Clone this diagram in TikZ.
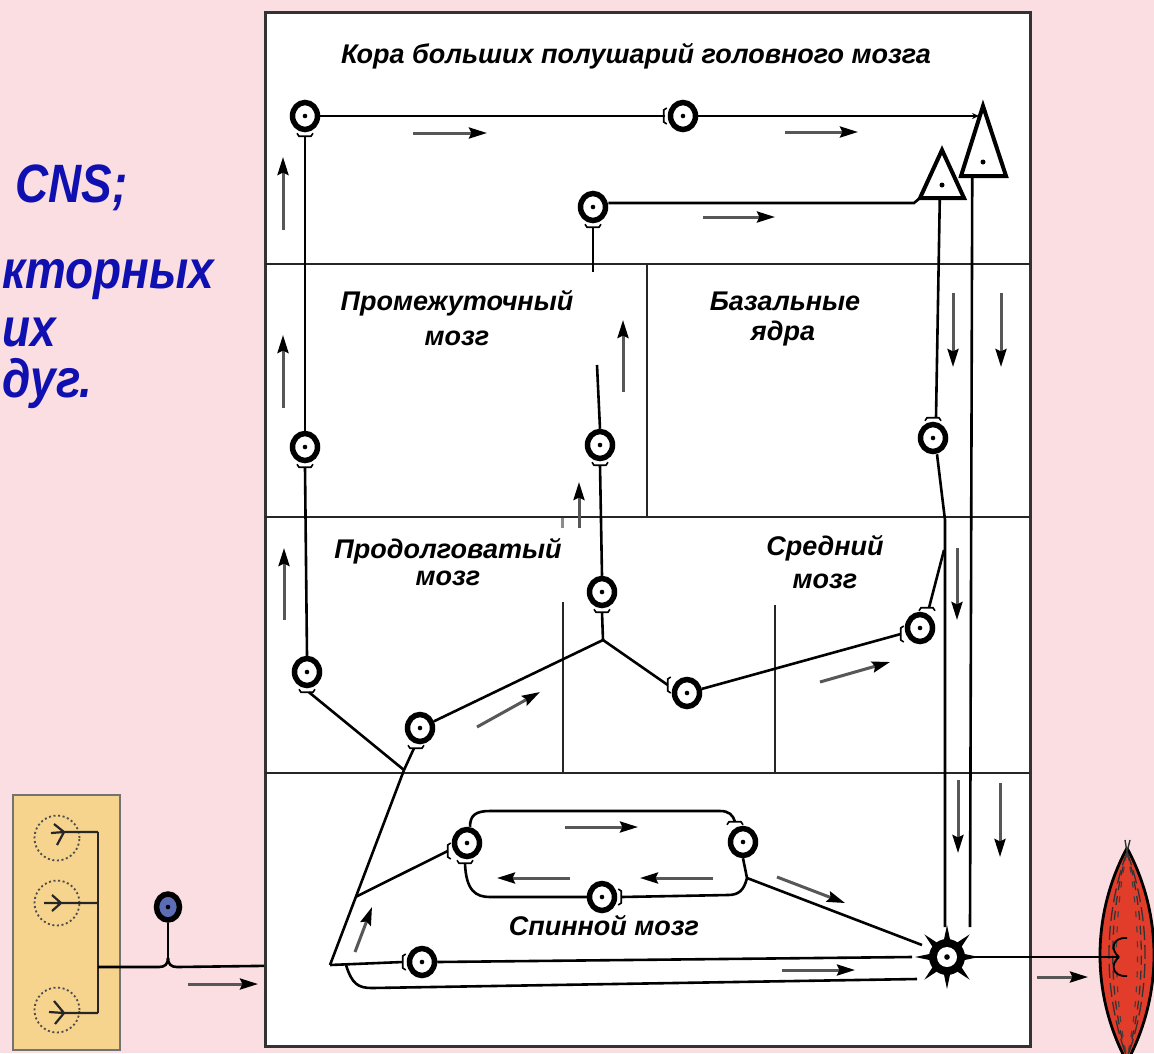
\documentclass[tikz,border=0pt]{standalone}
\usepackage{fontspec}
\setmainfont{Liberation Sans}
\usetikzlibrary{shapes.geometric,arrows.meta,calc}
\definecolor{slidebg}{RGB}{250,222,226}
\definecolor{slideblue}{RGB}{16,16,176}
\definecolor{boxfill}{RGB}{246,212,142}
\definecolor{ganglionblue}{RGB}{92,108,182}
\definecolor{musclered}{RGB}{226,60,42}
% synaptic contact marks beside a neuron (optional shift along the side)
\newcommand{\synS}[2][0]{\draw[syn] ($(#2.south)+({#1-8},1)$) -- ($(#2.south)+({#1-6},4)$) -- ($(#2.south)+({#1+6},4)$) -- ($(#2.south)+({#1+8},1)$);}
\newcommand{\synN}[2][0]{\draw[syn] ($(#2.north)+({#1-8},-1)$) -- ($(#2.north)+({#1-6},-4)$) -- ($(#2.north)+({#1+6},-4)$) -- ($(#2.north)+({#1+8},-1)$);}
\newcommand{\synW}[2][0]{\draw[syn] ($(#2.west)+(-1,{#1-8})$) -- ($(#2.west)+(-4,{#1-6})$) -- ($(#2.west)+(-4,{#1+6})$) -- ($(#2.west)+(-1,{#1+8})$);}
\newcommand{\synE}[2][0]{\draw[syn] ($(#2.east)+(1,{#1-8})$) -- ($(#2.east)+(4,{#1-6})$) -- ($(#2.east)+(4,{#1+6})$) -- ($(#2.east)+(1,{#1+8})$);}
\begin{document}
\begin{tikzpicture}[x=1pt,y=-1pt,
  neuron/.style={ellipse,draw=black,line width=5.5pt,fill=white,minimum width=25pt,minimum height=27pt,inner sep=0pt,
    path picture={\fill[black] (path picture bounding box.center) circle (2.3pt);}},
  axon/.style={line width=2.6pt,black},
  nerve/.style={line width=2.2pt,black!85},
  syn/.style={line width=1.6pt,black},
  flow/.style={line width=3pt,draw=black!66,-{Stealth[length=18pt,width=11pt,inset=2.5pt,color=black]}},
  pyramid/.style={draw=black,line width=4pt,fill=white,line join=miter},
  divider/.style={line width=2.4pt,black!85},
  region/.style={font=\fontsize{27}{32}\selectfont\bfseries\itshape,inner sep=0pt},
  slidetext/.style={font=\fontsize{54}{60}\selectfont\bfseries\itshape,text=slideblue,inner sep=0pt,xscale=0.85},
  receptor/.style={circle,draw=black!70,line width=1.8pt,dash pattern=on 2pt off 2.6pt,minimum size=45pt,inner sep=0pt},
  striaA/.style={line width=1.3pt,black!80,dash pattern=on 14pt off 5pt},
  striaB/.style={line width=1.3pt,black!80,dash pattern=on 9pt off 6pt},
  striaC/.style={line width=1.2pt,black!75,dash pattern=on 6pt off 9pt}
]
\fill[slidebg] (0,0) rectangle (1154,1053);
\useasboundingbox (0,0) rectangle (1154,1053);

% slide text on the left
\node[slidetext,anchor=base west] (txtcns) at (15,202) {CNS;};
\node[slidetext,anchor=base west] (txtword) at (2,288) {кторных};
\node[slidetext,anchor=base west] (txtih) at (2,346) {их};
\node[slidetext,anchor=base west] (txtdug) at (2,397) {дуг.};

% receptor field
\node[draw=black!55,line width=1.6pt,fill=boxfill,minimum width=107pt,minimum height=255pt,inner sep=0pt] (rbox) at (66.5,922.5) {};
\node[receptor] (r1) at (57,838) {};
\node[receptor] (r2) at (57,903) {};
\node[receptor] (r3) at (57,1010) {};
\draw[nerve] (98,832) -- (64,832) (64,832) -- (54,824) (64,832) -- (51,833) (64,832) -- (57,845);
\draw[nerve] (98,903) -- (44,903) (52,895) -- (61,903) -- (52,911);
\draw[nerve] (98,1013) -- (64,1013) (64,1013) -- (54,1001) (64,1013) -- (49,1012) (64,1013) -- (55,1024);
\draw[nerve] (98,832) -- (98,1013);

% sensory ganglion cell
\node[neuron,fill=ganglionblue,minimum width=23pt,minimum height=26pt] (gang) at (168,907) {};
\coordinate (j0) at (330,965);
\coordinate (gt) at (168,958);
\draw[axon] (98,967) -- (159,967) .. controls (165,967) and (168,964) .. (gt);
\draw[axon] (gang.south) -- (gt);
\draw[axon] (gt) .. controls (168,964) and (171,967) .. (177,967) -- (j0);
\draw[flow] (188,984) -- (258,984);

% central nervous system frame
\draw[line width=3pt,black!80,fill=white] (265,12) rectangle (1030,1046);
\draw[divider] (265,264) -- (1030,264);
\draw[divider] (265,517) -- (1030,517);
\draw[divider] (265,773) -- (1030,773);
\draw[divider] (647,264) -- (647,517);
\draw[divider,line width=1.8pt] (563,602) -- (563,773);
\draw[divider,line width=1.8pt] (775,605) -- (775,773);
\draw[line width=3pt,black!45] (562,518) -- (562,528);

% region names
\node[region,anchor=base] (lcortex) at (636,63) {Кора больших полушарий головного мозга};
\node[region,anchor=base] (ldien) at (457,310) {Промежуточный};
\node[region,anchor=base] (ldien2) at (457,345) {мозг};
\node[region,anchor=base] (lbasal) at (785,310) {Базальные};
\node[region,anchor=base] (lbasal2) at (783,340) {ядра};
\node[region,anchor=base] (lmed) at (448,558) {Продолговатый};
\node[region,anchor=base] (lmed2) at (448,585) {мозг};
\node[region,anchor=base] (lmid) at (825,555) {Средний};
\node[region,anchor=base] (lmid2) at (825,588) {мозг};
\node[region,anchor=base] (lspin) at (604,935) {Спинной мозг};

% neurons
\node[neuron] (c1) at (305,116) {};
\node[neuron] (c2) at (683,116) {};
\node[neuron] (c3) at (593,207) {};
\node[neuron] (d1) at (305,447) {};
\node[neuron] (d2) at (600,445) {};
\node[neuron] (b1) at (933,438) {};
\node[neuron] (m1) at (307,672) {};
\node[neuron] (m2) at (420,728) {};
\node[neuron] (m3) at (602,592) {};
\node[neuron] (m4) at (687,693) {};
\node[neuron] (m5) at (920,628) {};
\node[neuron] (s1) at (467,843) {};
\node[neuron] (s2) at (743,842) {};
\node[neuron] (s3) at (602,897) {};
\node[neuron] (s4) at (422,962) {};

% pyramidal cells of the cortex
\coordinate (t2tip) at (983,106);
\coordinate (t2l) at (961,176);
\coordinate (t2r) at (1006,176);
\coordinate (t1tip) at (942,150);
\coordinate (t1l) at (920,198);
\coordinate (t1r) at (964,198);
\draw[pyramid] (t2tip) -- (t2r) -- (t2l) -- cycle;
\fill (983,162) circle (2.5pt);
\draw[pyramid] (t1tip) -- (t1r) -- (t1l) -- cycle;
\fill (942,185) circle (2.5pt);

% motor neuron
\node[circle,fill=black,minimum size=36pt,inner sep=0pt] (mn) at (947,957) {};
\foreach \a in {0,45,...,315}
  \fill ($(mn.center)+({\a+14}:15)$) -- ($(mn.center)+(\a:32)$) -- ($(mn.center)+({\a-14}:15)$) -- cycle;
\fill[white] (mn.center) circle (10pt);
\fill (mn.center) circle (2.8pt);

% cortex connections
\draw[axon] (c1.east) -- ($(c2.west)+(-3,0)$);
\synW{c2}
\draw[axon,-{Stealth[length=7pt,width=6pt]}] (c2.east) -- ($(t2tip)+(-4,10)$);
\draw[axon] ($(c3.east)+(0,-4)$) -- (914,203) -- (t1l);
\draw[axon] ($(t2l)!0.25!(t2r)$) -- (970,927);
\draw[axon] ($(t1l)!0.45!(t1r)$) -- ($(b1.north)+(3,-4)$);
\synN{b1}
\draw[axon] ($(b1.south)+(4,0)$) -- (945,520) -- (945,927);

% ascending column on the left
\draw[axon] (d1.north) -- ($(c1.south)+(0,4)$);
\synS{c1}
\draw[axon] (m1.north) -- ($(d1.south)+(0,4)$);
\synS{d1}

% medulla and midbrain
\coordinate (j1) at (404,770);
\coordinate (j2) at (603,640);
\draw[axon] (j0) -- (j1);
\draw[axon] (j1) -- ($(m1.south)+(2,4)$);
\synS{m1}
\draw[axon] (j1) -- ($(m2.south)+(-6,4)$);
\synS[-4]{m2}
\draw[axon] (m2) -- (j2);
\draw[axon] (j2) -- ($(m3.south)+(0,4)$);
\synS{m3}
\draw[axon] (j2) -- ($(m4.west)+(-4,-8)$);
\synW[-8]{m4}
\draw[axon] (m3.north) -- ($(d2.south)+(0,4)$);
\synS{d2}
\draw[axon] (d2.north) -- (597,365);
\draw[axon] (593,272) -- ($(c3.south)+(0,4)$);
\synS{c3}
\draw[axon] (m4) -- ($(m5.west)+(-4,6)$);
\synW[6]{m5}
\draw[axon] ($(m5.north)+(9,-4)$) -- (944,550);
\synN[7]{m5}

% spinal cord
\coordinate (k) at ($(j0)!0.35!(j1)$);
\coordinate (p) at (747,878);
\draw[axon] (k) -- ($(s1.west)+(-4,8)$);
\synW[8]{s1}
\draw[axon] ($(s1.north)+(3,0)$) .. controls (470,815) and (476,811) .. (490,811) -- (720,811) .. controls (729,811) and (733,815) .. ($(s2.north)+(-8,-4)$);
\synN[-8]{s2}
\draw[axon] (s2.south) -- (p);
\draw[axon] (p) -- (922,945);
\draw[axon] (p) .. controls (744,890) and (739,895) .. (728,895) -- ($(s3.east)+(4,0)$);
\synE{s3}
\draw[axon] (s3.west) -- (490,897) .. controls (476,897) and (466,891) .. ($(s1.south)+(-2,4)$);
\synS[-2]{s1}
\draw[axon] (j0) -- ($(s4.west)+(-4,0)$);
\synW{s4}
\draw[axon] (s4.east) -- (912,957);
\draw[axon] (346,965) .. controls (352,984) and (358,988) .. (372,988) -- (917,979);

% muscle with motor end plate
\path[draw=black,line width=2.8pt,fill=musclered] (1127,848) .. controls (1163,915) and (1163,995) .. (1127,1062) .. controls (1091,995) and (1091,915) .. (1127,848);
\draw[striaA] (1127,852) .. controls (1151,918) and (1151,992) .. (1127,1058);
\draw[striaA] (1127,852) .. controls (1103,918) and (1103,992) .. (1127,1058);
\draw[striaB] (1127,852) .. controls (1146,918) and (1146,992) .. (1127,1058);
\draw[striaB] (1127,852) .. controls (1108,918) and (1108,992) .. (1127,1058);
\draw[striaC] (1127,852) .. controls (1141,918) and (1141,992) .. (1127,1058);
\draw[striaC] (1127,852) .. controls (1113,918) and (1113,992) .. (1127,1058);
\draw[line width=1.4pt,black!80] (1125,840) -- (1127,852) -- (1130,840);
\coordinate (endplate) at (1119,957);
\draw[line width=1.8pt] (mn.east) -- (endplate);
\draw[line width=1.8pt] (endplate) .. controls (1110,950) and (1112,937) .. (1127,938);
\draw[line width=1.8pt] (endplate) .. controls (1110,964) and (1112,977) .. (1127,976);
\draw[flow] (1037,977) -- (1088,977);

% direction of conduction
\draw[flow] (413,133) -- (487,133);
\draw[flow] (785,132) -- (858,132);
\draw[flow] (703,217) -- (775,217);
\draw[flow] (283,230) -- (283,157);
\draw[flow] (283,408) -- (283,335);
\draw[flow] (284,620) -- (284,548);
\draw[flow] (623,392) -- (623,320);
\draw[flow] (579,528) -- (579,482);
\draw[flow] (953,293) -- (953,367);
\draw[flow] (1001,293) -- (1001,367);
\draw[flow] (957,548) -- (957,620);
\draw[flow] (958,780) -- (958,853);
\draw[flow] (1000,783) -- (1000,857);
\draw[flow] (477,727) -- (540,692);
\draw[flow] (820,682) -- (890,662);
\draw[flow] (565,827) -- (638,827);
\draw[flow] (570,878) -- (497,878);
\draw[flow] (713,878) -- (640,878);
\draw[flow] (777,877) -- (845,903);
\draw[flow] (782,970) -- (855,970);
\draw[flow] (355,952) -- (372,907);
\end{tikzpicture}
\end{document}
